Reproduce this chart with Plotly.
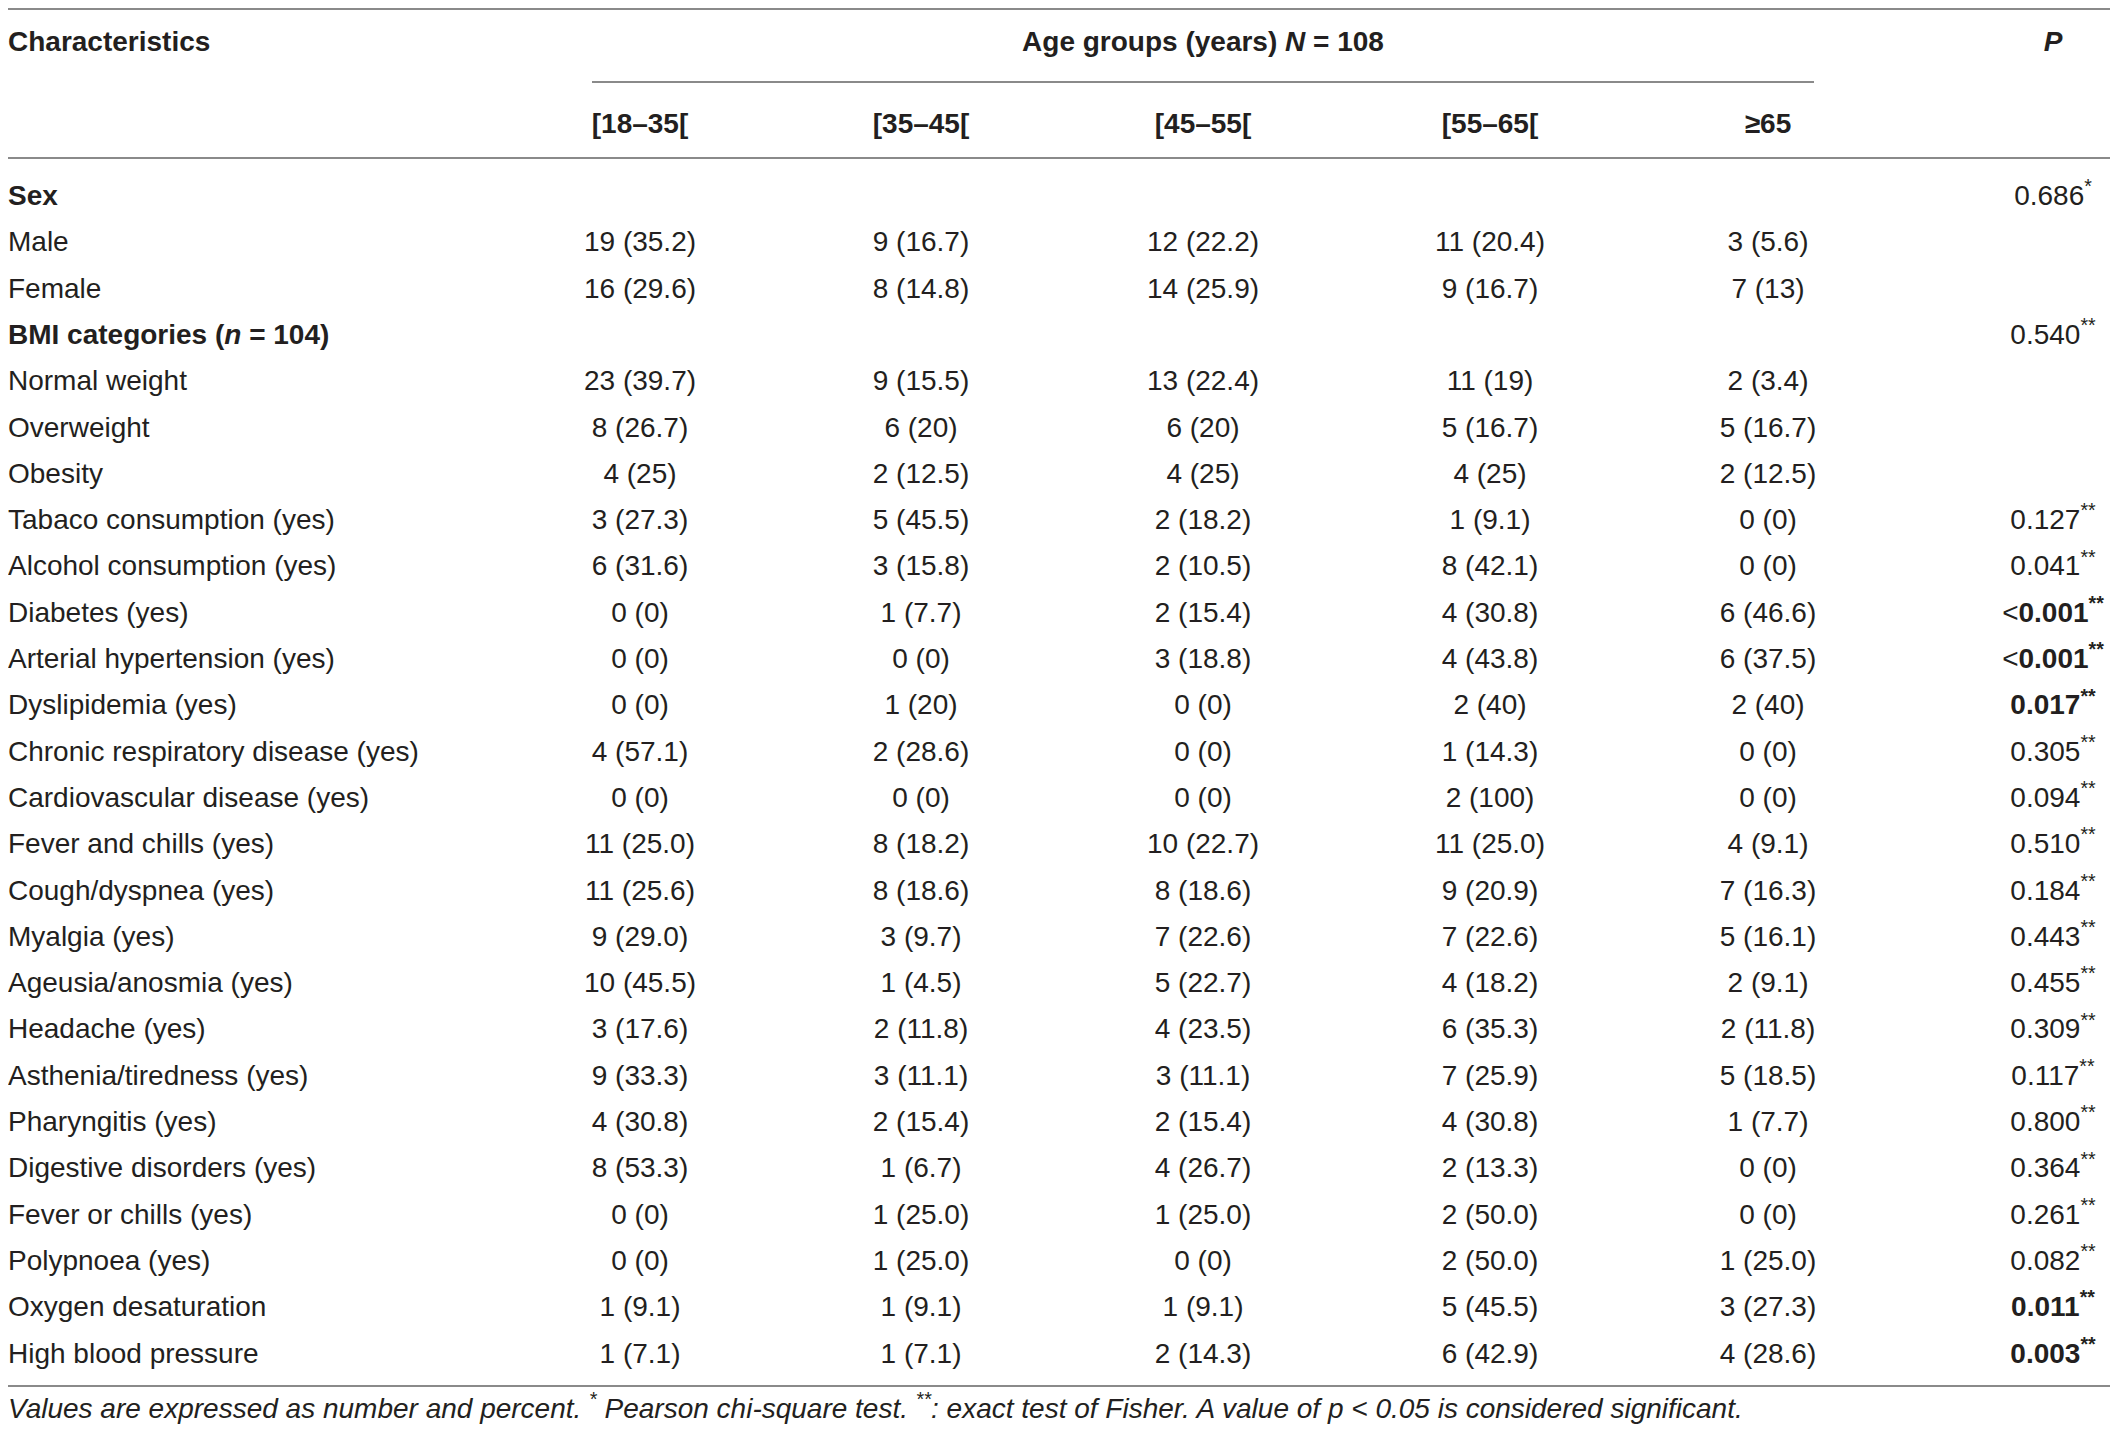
import plotly.graph_objects as go

# Table content
characteristics = [
    "Sex", "Male", "Female", "BMI categories (<i>n</i> = 104)", "Normal weight",
    "Overweight", "Obesity", "Tabaco consumption (yes)", "Alcohol consumption (yes)",
    "Diabetes (yes)", "Arterial hypertension (yes)", "Dyslipidemia (yes)",
    "Chronic respiratory disease (yes)", "Cardiovascular disease (yes)",
    "Fever and chills (yes)", "Cough/dyspnea (yes)", "Myalgia (yes)",
    "Ageusia/anosmia (yes)", "Headache (yes)", "Asthenia/tiredness (yes)",
    "Pharyngitis (yes)", "Digestive disorders (yes)", "Fever or chills (yes)",
    "Polypnoea (yes)", "Oxygen desaturation", "High blood pressure",
]
group_rows = ["Sex", "BMI categories (<i>n</i> = 104)"]

age_groups = ["[18–35[", "[35–45[", "[45–55[", "[55–65[", "≥65"]

g18_35 = ["", "19 (35.2)", "16 (29.6)", "", "23 (39.7)", "8 (26.7)", "4 (25)", "3 (27.3)",
          "6 (31.6)", "0 (0)", "0 (0)", "0 (0)", "4 (57.1)", "0 (0)", "11 (25.0)", "11 (25.6)",
          "9 (29.0)", "10 (45.5)", "3 (17.6)", "9 (33.3)", "4 (30.8)", "8 (53.3)", "0 (0)",
          "0 (0)", "1 (9.1)", "1 (7.1)"]
g35_45 = ["", "9 (16.7)", "8 (14.8)", "", "9 (15.5)", "6 (20)", "2 (12.5)", "5 (45.5)",
          "3 (15.8)", "1 (7.7)", "0 (0)", "1 (20)", "2 (28.6)", "0 (0)", "8 (18.2)", "8 (18.6)",
          "3 (9.7)", "1 (4.5)", "2 (11.8)", "3 (11.1)", "2 (15.4)", "1 (6.7)", "1 (25.0)",
          "1 (25.0)", "1 (9.1)", "1 (7.1)"]
g45_55 = ["", "12 (22.2)", "14 (25.9)", "", "13 (22.4)", "6 (20)", "4 (25)", "2 (18.2)",
          "2 (10.5)", "2 (15.4)", "3 (18.8)", "0 (0)", "0 (0)", "0 (0)", "10 (22.7)", "8 (18.6)",
          "7 (22.6)", "5 (22.7)", "4 (23.5)", "3 (11.1)", "2 (15.4)", "4 (26.7)", "1 (25.0)",
          "0 (0)", "1 (9.1)", "2 (14.3)"]
g55_65 = ["", "11 (20.4)", "9 (16.7)", "", "11 (19)", "5 (16.7)", "4 (25)", "1 (9.1)",
          "8 (42.1)", "4 (30.8)", "4 (43.8)", "2 (40)", "1 (14.3)", "2 (100)", "11 (25.0)",
          "9 (20.9)", "7 (22.6)", "4 (18.2)", "6 (35.3)", "7 (25.9)", "4 (30.8)", "2 (13.3)",
          "2 (50.0)", "2 (50.0)", "5 (45.5)", "6 (42.9)"]
g65_plus = ["", "3 (5.6)", "7 (13)", "", "2 (3.4)", "5 (16.7)", "2 (12.5)", "0 (0)", "0 (0)",
            "6 (46.6)", "6 (37.5)", "2 (40)", "0 (0)", "0 (0)", "4 (9.1)", "7 (16.3)",
            "5 (16.1)", "2 (9.1)", "2 (11.8)", "5 (18.5)", "1 (7.7)", "0 (0)", "0 (0)",
            "1 (25.0)", "3 (27.3)", "4 (28.6)"]

p_values = ["0.686", "", "", "0.540", "", "", "", "0.127", "0.041", "<0.001", "<0.001",
            "0.017", "0.305", "0.094", "0.510", "0.184", "0.443", "0.455", "0.309", "0.117",
            "0.800", "0.364", "0.261", "0.082", "0.011", "0.003"]
p_tests = ["*", "", "", "**", "", "", "", "**", "**", "**", "**", "**", "**", "**", "**",
           "**", "**", "**", "**", "**", "**", "**", "**", "**", "**", "**"]
p_bold = ["<0.001", "0.017", "0.011", "0.003"]

footnote = ("Values are expressed as number and percent. <sup>*</sup> Pearson chi-square test. "
            "<sup>**</sup>: exact test of Fisher. A value of <i>p</i> < 0.05 is considered significant.")

# layout settings, in page pixels (the page body keeps its 8px margin)
PAD = 8
W, H = 2118, 1435
FONT = "Liberation Sans"
TXT = "#231f20"
RULE = "#8a8a8a"
FS = 28
row_top, row_step = 198, 46.3
label_x = PAD
col_x = [640, 921, 1203, 1490, 1768]
p_x = 2053

row_y = [row_top + i * row_step for i in range(len(characteristics))]


def fmt_label(s):
    return "<b>" + s + "</b>" if s in group_rows else s


def fmt_p(v, t):
    if not v:
        return ""
    if v.startswith("<"):
        return "<" + "<b>" + v[1:] + "<sup>" + t + "</sup></b>"
    if v in p_bold:
        return "<b>" + v + "<sup>" + t + "</sup></b>"
    return v + "<sup>" + t + "</sup>"


def text_trace(xs, ys, texts, pos):
    return go.Scatter(x=xs, y=ys, mode="text", text=texts, textposition=pos,
                      textfont=dict(family=FONT, size=FS, color=TXT),
                      hoverinfo="skip", cliponaxis=False)


fig = go.Figure()

# first column
fig.add_trace(text_trace([label_x] * len(characteristics), row_y,
                         [fmt_label(s) for s in characteristics], "middle right"))

# age group columns
for cx, col in zip(col_x, [g18_35, g35_45, g45_55, g55_65, g65_plus]):
    fig.add_trace(text_trace([cx] * len(col), row_y, col, "middle center"))

# P column
fig.add_trace(text_trace([p_x] * len(p_values), row_y,
                         [fmt_p(v, t) for v, t in zip(p_values, p_tests)], "middle center"))

# header rows
fig.add_trace(text_trace([label_x], [44], ["<b>Characteristics</b>"], "middle right"))
fig.add_trace(text_trace([(592 + 1814) / 2, p_x], [44, 44],
                         ["<b>Age groups (years) <i>N</i> = 108</b>", "<b><i>P</i></b>"],
                         "middle center"))
fig.add_trace(text_trace(col_x, [126] * len(age_groups),
                         ["<b>" + g + "</b>" for g in age_groups], "middle center"))

# footnote
fig.add_trace(text_trace([label_x], [1411], ["<i>" + footnote + "</i>"], "middle right"))

# rules
rules = [(PAD, W - PAD, 9), (592, 1814, 82), (PAD, 2110, 158), (PAD, 2110, 1386)]
for x0, x1, y in rules:
    fig.add_shape(type="line", x0=x0, x1=x1, y0=y, y1=y, xref="x", yref="y",
                  line=dict(color=RULE, width=2))

fig.update_layout(
    width=W - 2 * PAD, height=H - 2 * PAD, margin=dict(l=0, r=0, t=0, b=0),
    paper_bgcolor="white", plot_bgcolor="white", showlegend=False,
    xaxis=dict(range=[PAD, W - PAD], visible=False, fixedrange=True),
    yaxis=dict(range=[H - PAD, PAD], visible=False, fixedrange=True),
)

fig.write_html("out.html")
